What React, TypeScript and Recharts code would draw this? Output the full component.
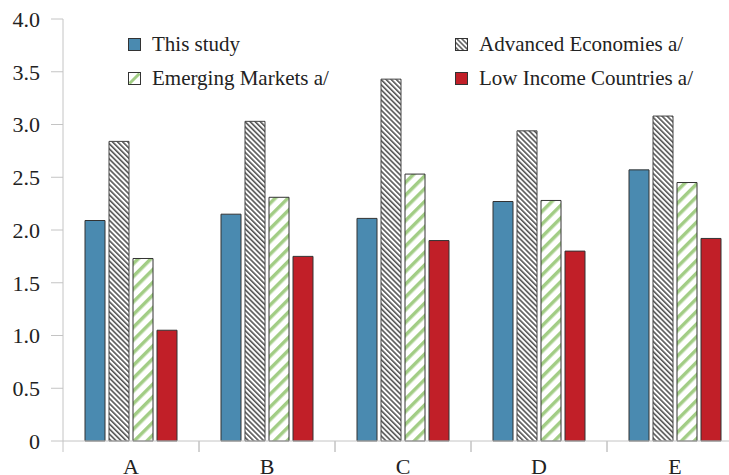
import React from 'react';
import { BarChart, Bar, XAxis, YAxis } from 'recharts';

const categories = ['A', 'B', 'C', 'D', 'E'];
const thisStudy = [2.09, 2.15, 2.11, 2.27, 2.57];
const advanced = [2.84, 3.03, 3.43, 2.94, 3.08];
const emerging = [1.73, 2.31, 2.53, 2.28, 2.45];
const lowIncome = [1.05, 1.75, 1.9, 1.8, 1.92];
const yTicks = [0, 0.5, 1, 1.5, 2, 2.5, 3, 3.5, 4];

const seriesNames = ['This study', 'Advanced Economies a/', 'Emerging Markets a/', 'Low Income Countries a/'];

const data = categories.map((c, i) => ({
  cat: c,
  s1: thisStudy[i],
  s2: advanced[i],
  s3: emerging[i],
  s4: lowIncome[i],
}));

const FONT = "'Liberation Serif', Tinos, 'Times New Roman', Times, serif";
const BLUE = '#4a8ab0';
const RED = '#c11f28';
const GREEN = '#a2cd85';
const AXIS = '#c4c4c4';

const XTick = (props: any) => {
  const { x, y, payload } = props;
  const off = payload && payload.offset ? payload.offset : 0;
  return (
    <g>
      <line x1={x - off} y1={y} x2={x - off} y2={y + 11} stroke={AXIS} strokeWidth={1} />
      <line x1={x + off} y1={y} x2={x + off} y2={y + 11} stroke={AXIS} strokeWidth={1} />
      <text x={x} y={y + 32.5} textAnchor="middle" fontFamily={FONT} fontSize={22} fill="#222">
        {payload.value}
      </text>
    </g>
  );
};

const LegendIcon = ({ kind }: { kind: number }) => {
  return (
    <svg width={13} height={13} style={{ display: 'block' }}>
      {kind === 1 ? (
        <defs>
          <pattern id="hatchLeg" patternUnits="userSpaceOnUse" width={3.5} height={3.5} patternTransform="rotate(-45)">
            <rect x={0} y={0} width={3.5} height={3.5} fill="#fff" />
            <rect x={0} y={0} width={1.5} height={3.5} fill="#555" />
          </pattern>
        </defs>
      ) : null}
      <rect
        x={0.5}
        y={0.5}
        width={12}
        height={12}
        fill={kind === 0 ? BLUE : kind === 3 ? RED : kind === 1 ? 'url(#hatchLeg)' : '#fff'}
        stroke="#333"
        strokeWidth={1}
      />
      {kind === 2 ? <line x1={1.5} y1={11.5} x2={11.5} y2={1.5} stroke={GREEN} strokeWidth={3} /> : null}
      {kind === 2 ? <rect x={0.5} y={0.5} width={12} height={12} fill="none" stroke="#333" strokeWidth={1} /> : null}
    </svg>
  );
};

const ChartLegend = () => (
  <div
    style={{
      position: 'absolute',
      left: 128,
      top: 33,
      display: 'grid',
      gridTemplateColumns: '327px 280px',
      rowGap: 12,
      fontFamily: FONT,
      fontSize: 21,
      color: '#222',
    }}
  >
    {[0, 1, 2, 3].map((k) => (
      <div key={k} style={{ display: 'flex', alignItems: 'center', height: 22, whiteSpace: 'nowrap' }}>
        <LegendIcon kind={k} />
        <span style={{ marginLeft: 11 }}>{seriesNames[k]}</span>
      </div>
    ))}
  </div>
);

export default function App() {
  return (
    <div style={{ position: 'absolute', left: 0, top: 0, width: 729, height: 475, overflow: 'hidden', background: '#fff' }}>
      <BarChart
        width={760}
        height={475}
        data={data}
        margin={{ top: 19, right: 17, left: 0, bottom: 0 }}
        barSize={20}
        barGap={4}
      >
        <defs>
          <pattern id="hatch" patternUnits="userSpaceOnUse" width={3.6} height={3.6} patternTransform="rotate(-45)">
            <rect x={0} y={0} width={3.6} height={3.6} fill="#fff" />
            <rect x={0} y={0} width={1.6} height={3.6} fill="#555" />
          </pattern>
          <pattern id="greenStripe" patternUnits="userSpaceOnUse" width={9} height={9} patternTransform="rotate(45)">
            <rect x={0} y={0} width={9} height={9} fill="#fff" />
            <rect x={0} y={0} width={3.5} height={9} fill={GREEN} />
          </pattern>
        </defs>
        <XAxis
          dataKey="cat"
          height={34}
          axisLine={{ stroke: AXIS }}
          tickLine={false}
          tickSize={0}
          tickMargin={0}
          tick={<XTick />}
          interval={0}
        />
        <YAxis
          width={63}
          domain={[0, 4]}
          ticks={yTicks}
          interval={0}
          axisLine={{ stroke: AXIS }}
          tickLine={{ stroke: AXIS }}
          tickSize={12}
          tickMargin={11}
          tickFormatter={(v: number) => (v === 0 ? '0' : v.toFixed(1))}
          tick={{ fontFamily: FONT, fontSize: 22, fill: '#222' }}
        />
        <Bar dataKey="s1" name={seriesNames[0]} fill={BLUE} stroke="#333" strokeWidth={1} isAnimationActive={false} />
        <Bar dataKey="s2" name={seriesNames[1]} fill="url(#hatch)" stroke="#444" strokeWidth={1} isAnimationActive={false} />
        <Bar dataKey="s3" name={seriesNames[2]} fill="url(#greenStripe)" stroke="#333" strokeWidth={1} isAnimationActive={false} />
        <Bar dataKey="s4" name={seriesNames[3]} fill={RED} stroke="#333" strokeWidth={1} isAnimationActive={false} />
      </BarChart>
      <ChartLegend />
    </div>
  );
}
